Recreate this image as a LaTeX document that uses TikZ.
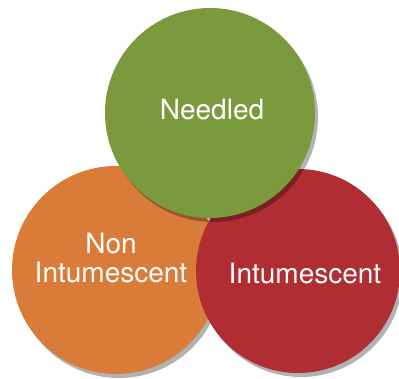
\documentclass[tikz,border=0pt]{standalone}
\usepackage{fontspec}
\setmainfont{TeX Gyre Heros}
\usetikzlibrary{shadows, positioning}

\definecolor{needgreen}{HTML}{7B9A3D}
\definecolor{nonorange}{HTML}{D97C3A}
\definecolor{intred}{HTML}{B02E33}

\begin{document}
\begin{tikzpicture}[
    x=1pt, y=-1pt,
    bubble/.style={circle, inner sep=0pt, drop shadow={shadow xshift=3pt, shadow yshift=-4pt, opacity=0.3, fill=black}},
    lbl/.style={text=white, font=\fontsize{28}{29}\selectfont, align=center, inner sep=0pt}
]
    \useasboundingbox (0,0) rectangle (399,378);

    % --- Circles (back to front) ---
    \node[bubble, fill=nonorange, minimum size=208pt] (nonint) at (116,270) {};
    \node[bubble, fill=intred, minimum size=204pt] (intum) at (298,271) {};
    \node[bubble, fill=needgreen, minimum size=210pt] (needled) at (210,113) {};

    % --- Labels ---
    \node[lbl] (needledtxt) at (212,110) {Needled};
    \node[lbl] (noninttxt) at (111,258) {Non\\Intumescent};
    \node[lbl] (intumtxt) at (305,273) {Intumescent};
\end{tikzpicture}
\end{document}
